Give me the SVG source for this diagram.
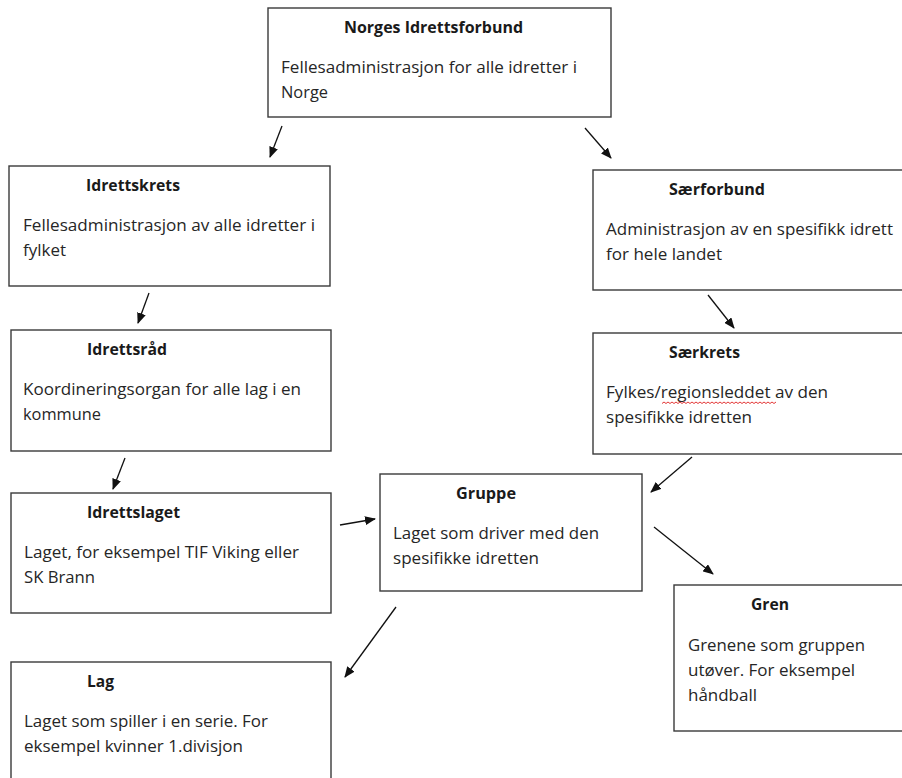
<svg xmlns="http://www.w3.org/2000/svg" width="902" height="778" viewBox="0 0 902 778">
<style>
.box{fill:#fff;stroke:#3a3a3a;stroke-width:1.4}
.t{font-family:"Open Sans","Liberation Sans",sans-serif;font-size:17px;fill:#262626}
.h{font-family:"Open Sans","Liberation Sans",sans-serif;font-size:16.5px;font-weight:bold;fill:#1a1a1a}
.c{stroke:#111;stroke-width:1.3;fill:none;marker-end:url(#ah)}
</style>
<defs>
<marker id="ah" markerUnits="userSpaceOnUse" markerWidth="11" markerHeight="9" refX="10" refY="4.5" orient="auto">
<path d="M0,0 L11,4.5 L0,9 z" fill="#111"/>
</marker>
</defs>
<rect width="902" height="778" fill="#fff"/>
<g id="nif">
<rect class="box" x="268" y="8" width="343" height="109"/>
<text class="h" x="344" y="33" textLength="179" lengthAdjust="spacingAndGlyphs">Norges Idrettsforbund</text>
<text class="t" x="281" y="73" textLength="296" lengthAdjust="spacingAndGlyphs">Fellesadministrasjon for alle idretter i</text>
<text class="t" x="281" y="98" textLength="47" lengthAdjust="spacingAndGlyphs">Norge</text>
</g>
<g id="idrettskrets">
<rect class="box" x="9" y="166" width="321" height="120"/>
<text class="h" x="86" y="191" textLength="94" lengthAdjust="spacingAndGlyphs">Idrettskrets</text>
<text class="t" x="23" y="231" textLength="292" lengthAdjust="spacingAndGlyphs">Fellesadministrasjon av alle idretter i</text>
<text class="t" x="23" y="256" textLength="43" lengthAdjust="spacingAndGlyphs">fylket</text>
</g>
<g id="idrettsrad">
<rect class="box" x="11" y="330" width="320" height="121"/>
<text class="h" x="87" y="355" textLength="80" lengthAdjust="spacingAndGlyphs">Idrettsråd</text>
<text class="t" x="23" y="395" textLength="278" lengthAdjust="spacingAndGlyphs">Koordineringsorgan for alle lag i en</text>
<text class="t" x="23" y="420" textLength="78" lengthAdjust="spacingAndGlyphs">kommune</text>
</g>
<g id="idrettslaget">
<rect class="box" x="11" y="493" width="320" height="120"/>
<text class="h" x="87" y="518" textLength="93" lengthAdjust="spacingAndGlyphs">Idrettslaget</text>
<text class="t" x="24" y="558" textLength="275" lengthAdjust="spacingAndGlyphs">Laget, for eksempel TIF Viking eller</text>
<text class="t" x="24" y="583" textLength="71" lengthAdjust="spacingAndGlyphs">SK Brann</text>
</g>
<g id="lag">
<rect class="box" x="11" y="662" width="320" height="140"/>
<text class="h" x="87" y="687" textLength="27" lengthAdjust="spacingAndGlyphs">Lag</text>
<text class="t" x="24" y="727" textLength="244" lengthAdjust="spacingAndGlyphs">Laget som spiller i en serie. For</text>
<text class="t" x="24" y="752" textLength="219" lengthAdjust="spacingAndGlyphs">eksempel kvinner 1.divisjon</text>
</g>
<g id="saerforbund">
<rect class="box" x="593" y="170" width="320" height="120"/>
<text class="h" x="669" y="195" textLength="96" lengthAdjust="spacingAndGlyphs">Særforbund</text>
<text class="t" x="606" y="235" textLength="287" lengthAdjust="spacingAndGlyphs">Administrasjon av en spesifikk idrett</text>
<text class="t" x="606" y="260" textLength="116" lengthAdjust="spacingAndGlyphs">for hele landet</text>
</g>
<g id="saerkrets">
<rect class="box" x="593" y="333" width="320" height="121"/>
<text class="h" x="669" y="358" textLength="71" lengthAdjust="spacingAndGlyphs">Særkrets</text>
<text class="t" x="606" y="398" textLength="222" lengthAdjust="spacingAndGlyphs">Fylkes/regionsleddet av den</text>
<path d="M662,403.5 l2,-1.5 l2,1.5 l2,-1.5 l2,1.5 l2,-1.5 l2,1.5 l2,-1.5 l2,1.5 l2,-1.5 l2,1.5 l2,-1.5 l2,1.5 l2,-1.5 l2,1.5 l2,-1.5 l2,1.5 l2,-1.5 l2,1.5 l2,-1.5 l2,1.5 l2,-1.5 l2,1.5 l2,-1.5 l2,1.5 l2,-1.5 l2,1.5 l2,-1.5 l2,1.5 l2,-1.5 l2,1.5 l2,-1.5 l2,1.5 l2,-1.5 l2,1.5 l2,-1.5 l2,1.5 l2,-1.5 l2,1.5 l2,-1.5 l2,1.5 l2,-1.5 l2,1.5 l2,-1.5 l2,1.5 l2,-1.5 l2,1.5 l2,-1.5 l2,1.5 l2,-1.5 l2,1.5 l2,-1.5 l2,1.5 l2,-1.5 l2,1.5 l2,-1.5 l2,1.5 l2,-1.5" fill="none" stroke="#e02020" stroke-width="0.9"/>
<text class="t" x="606" y="423" textLength="146" lengthAdjust="spacingAndGlyphs">spesifikke idretten</text>
</g>
<g id="gruppe">
<rect class="box" x="380" y="474" width="262" height="117"/>
<text class="h" x="456" y="499" textLength="60" lengthAdjust="spacingAndGlyphs">Gruppe</text>
<text class="t" x="393" y="539" textLength="206" lengthAdjust="spacingAndGlyphs">Laget som driver med den</text>
<text class="t" x="393" y="564" textLength="146" lengthAdjust="spacingAndGlyphs">spesifikke idretten</text>
</g>
<g id="gren">
<rect class="box" x="674" y="585" width="240" height="146"/>
<text class="h" x="751" y="610" textLength="38" lengthAdjust="spacingAndGlyphs">Gren</text>
<text class="t" x="688" y="651" textLength="177" lengthAdjust="spacingAndGlyphs">Grenene som gruppen</text>
<text class="t" x="688" y="676" textLength="167" lengthAdjust="spacingAndGlyphs">utøver. For eksempel</text>
<text class="t" x="688" y="701" textLength="69" lengthAdjust="spacingAndGlyphs">håndball</text>
</g>
<g id="connectors">
<line class="c" x1="282" y1="126" x2="270" y2="157"/>
<line class="c" x1="585" y1="128" x2="611" y2="158"/>
<line class="c" x1="149" y1="293" x2="138" y2="323"/>
<line class="c" x1="708" y1="295" x2="734" y2="328"/>
<line class="c" x1="125" y1="458" x2="113" y2="489"/>
<line class="c" x1="692" y1="457" x2="651" y2="492"/>
<line class="c" x1="340" y1="525" x2="375" y2="519"/>
<line class="c" x1="654" y1="527" x2="713" y2="574"/>
<line class="c" x1="396" y1="607" x2="345" y2="677"/>
</g>
</svg>
